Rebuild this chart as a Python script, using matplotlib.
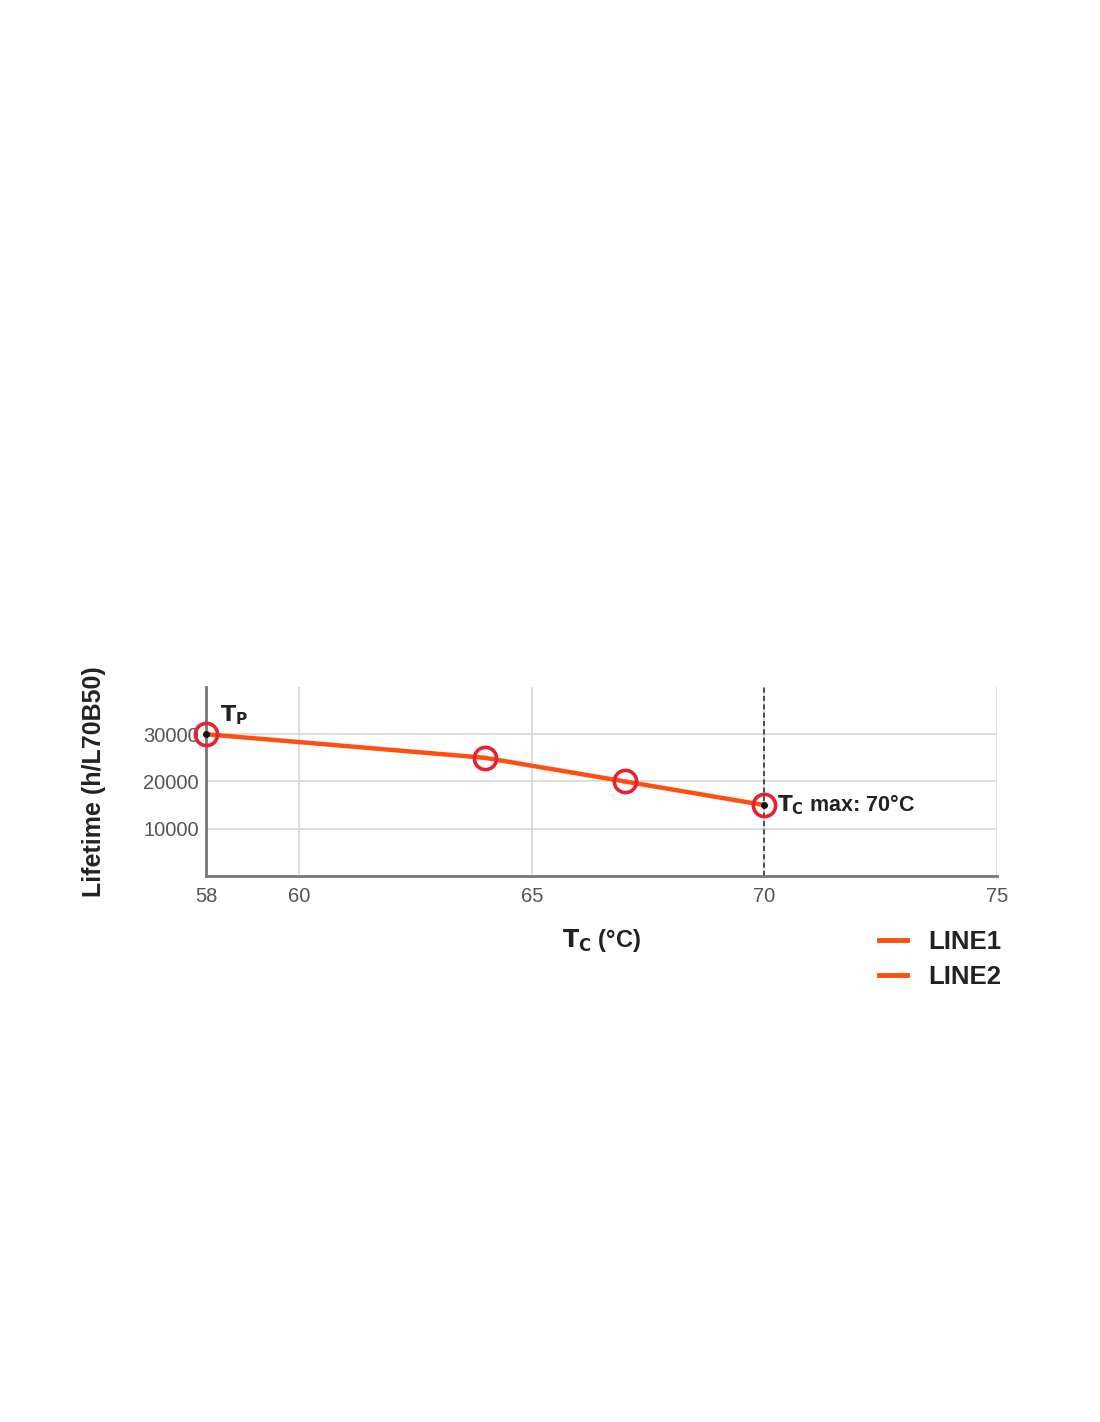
import matplotlib
matplotlib.use("Agg")
import matplotlib.pyplot as plt
from matplotlib.lines import Line2D

plt.rcParams['font.family'] = ['Liberation Sans', 'DejaVu Sans']

# data
tc = [58, 64, 67, 70]
lifetime = [30000, 25000, 20000, 15000]
x_ticks = [58, 60, 65, 70, 75]
y_ticks = [10000, 20000, 30000]
series_names = ["LINE1", "LINE2"]
tc_max = 70

line_color = "#ff4f0f"
ring_color = "#e8202f"

fig = plt.figure(figsize=(11, 14.22), dpi=100)
ax = fig.add_axes([0.1873, 0.384, 0.7191, 0.1329])

ax.plot(tc, lifetime, color=line_color, linewidth=3.2, zorder=3, solid_capstyle="round",
        clip_on=False)
ax.plot(tc, lifetime, linestyle="none", marker="o", markersize=16,
        markerfacecolor="none", markeredgecolor=ring_color, markeredgewidth=2.6, zorder=4,
        clip_on=False)
# black dots at the two end points
ax.plot([tc[0], tc[-1]], [lifetime[0], lifetime[-1]], linestyle="none", marker="o",
        markersize=4, color="#111111", zorder=5, clip_on=False)

ax.axvline(tc_max, color="#333333", linestyle=(0, (3, 2)), linewidth=1.2, zorder=2)

ax.set_xlim(58, 75)
ax.set_ylim(0, 40000)
ax.set_xticks(x_ticks)
ax.set_yticks(y_ticks)
ax.grid(True, color="#d2d2d2", linewidth=1.1, zorder=0)
ax.set_axisbelow(True)

for s in ["top", "right"]:
    ax.spines[s].set_visible(False)
for s in ["left", "bottom"]:
    ax.spines[s].set_color("#777777")
    ax.spines[s].set_linewidth(2)

ax.tick_params(length=0, labelsize=14.5, labelcolor="#555555", pad=8)
ax.tick_params(axis="y", pad=5)

ax.annotate(r"$\mathbf{T_P}$", (tc[0], lifetime[0]), xytext=(10, 5),
            textcoords="offset points", fontsize=16, color="#222222",
            fontweight="bold", va="bottom")
ax.annotate(r"$\mathbf{T_C}$ max: 70°C", (tc[-1], lifetime[-1]), xytext=(9, 0),
            textcoords="offset points", fontsize=15.5, color="#222222",
            fontweight="bold", va="center")

ax.set_xlabel(r"$\mathbf{T_C}$ (°C)", fontsize=17, fontweight="bold", color="#222222")
ax.xaxis.set_label_coords(0.5, -0.27)
ax.set_ylabel("Lifetime (h/L70B50)", fontsize=18, fontweight="bold", color="#222222")
ax.yaxis.set_label_coords(-0.126, 0.5)

handles = [Line2D([0], [0], color=line_color, linewidth=3.5) for _ in series_names]
leg = fig.legend(handles, series_names, loc="upper right", bbox_to_anchor=(0.931, 0.362),
                 frameon=False, handlelength=1.1, handletextpad=0.8, labelspacing=0.4,
                 prop={"weight": "bold", "size": 18.5})
for t in leg.get_texts():
    t.set_color("#222222")

fig.savefig("out.png", dpi=100)
